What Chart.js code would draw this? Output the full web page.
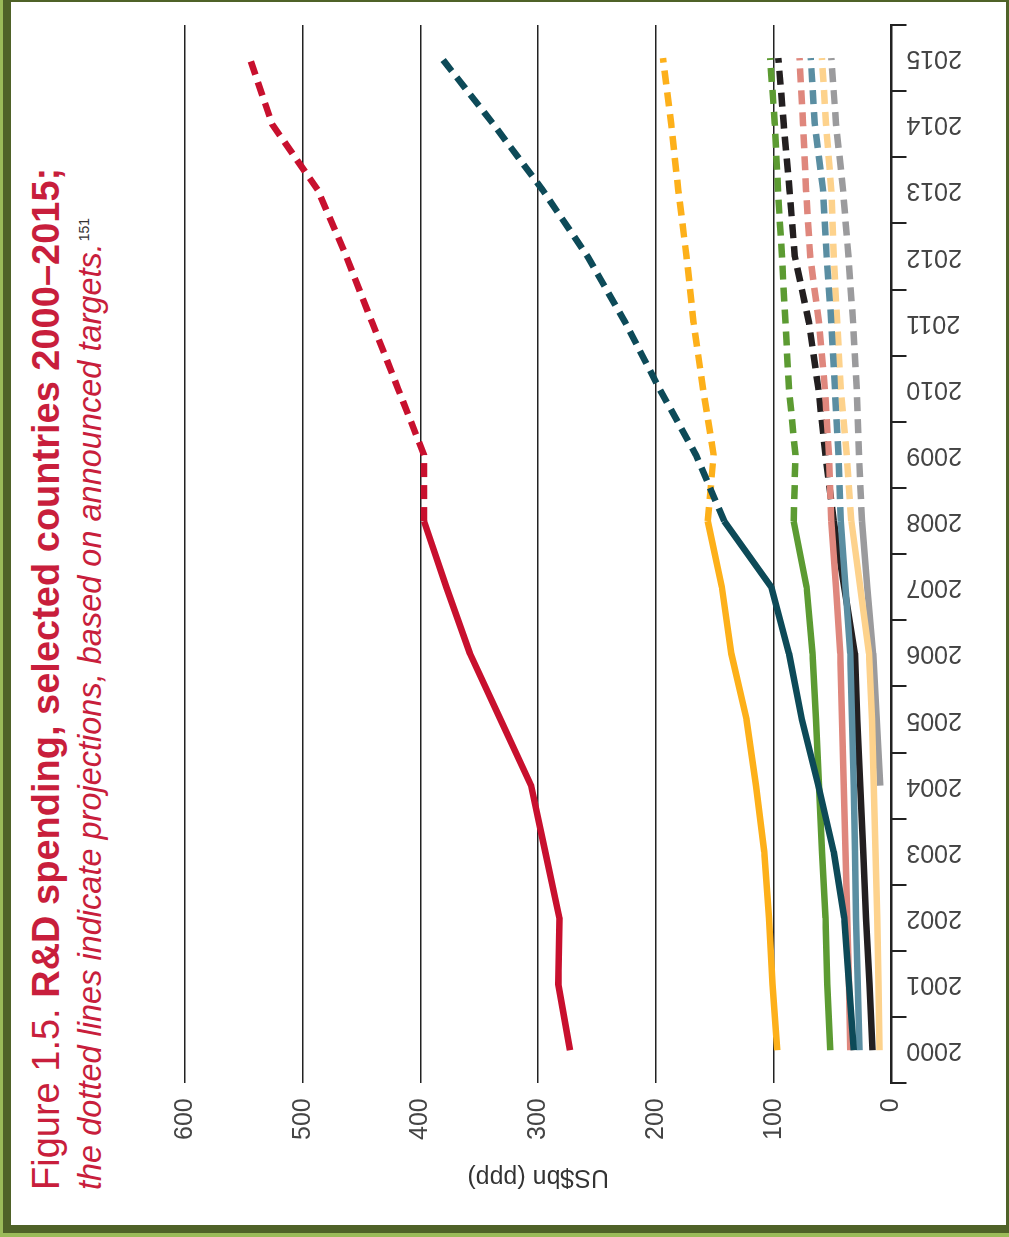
<!DOCTYPE html>
<html>
<head>
<meta charset="utf-8">
<script src="https://cdn.jsdelivr.net/npm/chart.js@4/dist/chart.umd.min.js"></script>
<style>
  html, body { margin: 0; padding: 0; }
  body { width: 1009px; height: 1237px; overflow: hidden; background: #9bbb59; position: relative; font-family: "Liberation Sans", Arial, sans-serif; }
  #frame { position: absolute; left: 3px; top: 0; width: 1006px; height: 1233px; box-sizing: border-box; background: #fff;
           border-style: solid; border-color: #4f6228; border-width: 2px 3px 8px 8px; }
  /* the figure is scanned turned on its side, so the whole chart is turned -90deg */
  #turned { position: absolute; left: 0; top: 0; width: 1237px; height: 1009px; transform-origin: 0 0; transform: translateY(1237px) rotate(-90deg); }
  #title { position: absolute; left: 47px; top: 27px; font-size: 38px; line-height: 1; color: #c81e3c; white-space: nowrap; }
  #title b { font-weight: bold; }
  #subtitle { position: absolute; left: 47px; top: 74px; font-size: 32.5px; line-height: 1; color: #c81e3c; font-style: italic; white-space: nowrap; }
  #subtitle sup { font-style: normal; font-size: 14px; color: #333; vertical-align: 12px; margin-left: 2px; }
  #box { position: absolute; left: 0; top: 110px; }
</style>
</head>
<body>
<div id="frame"></div>
<div id="turned">
  <div id="title">Figure 1.5. <b>R&amp;D spending, selected countries 2000–2015;</b></div>
  <div id="subtitle">the dotted lines indicate projections, based on announced targets.<sup>151</sup></div>
  <div id="box"><canvas id="my-chart" width="1237" height="899"></canvas></div>
</div>
<script>
const years = ['2000', '2001', '2002', '2003', '2004', '2005', '2006', '2007',
               '2008', '2009', '2010', '2011', '2012', '2013', '2014', '2015'];
const valueTicks = [0, 100, 200, 300, 400, 500, 600];
const projectedFrom = 8; // 2008 onwards is dotted

const usa     = [273, 283, 282, 294, 306, 332, 358, 378, 397, 397, 419, 441, 463, 487, 526, 545];
const china   = [32, 36, 40, 49, 62, 76, 87, 102, 142, 166, 197, 226, 258, 296, 338, 382];
const japan   = [97, 101, 104, 108, 115, 123, 136, 144, 156, 151, 160, 168, 174, 181, 187, 194];
const germany = [52, 54.5, 56, 59, 61.5, 64, 67, 72, 83, 81.5, 87, 90, 93, 96.3, 99, 103];
const korea   = [16, 18.5, 21.5, 24, 26.5, 29, 31, 40, 49, 56, 62, 70, 82, 86.5, 91.5, 96];
const france  = [35, 36, 37.5, 39, 40.5, 42, 43.5, 47, 51, 53, 56.5, 61.5, 69, 72.5, 75, 78];
const uk      = [27, 28.5, 30, 31, 32, 33.5, 35, 39, 43, 45, 48, 51, 55, 58, 65, 68.5];
const india   = [10, 11, 12, 13.5, 15, 16.5, 19, 26.5, 34, 38, 43, 46, 49, 51, 55.5, 59];
const russia  = [null, null, null, null, 9.5, 12.5, 15.5, 20.5, 25, 27.5, 29.5, 32.5, 36.5, 41, 47, 51];

const fontFamily = '"Liberation Sans", Arial, sans-serif';

function line(label, data, color, order) {
   return {
      label: label,
      data: data,
      order: order || 0,
      borderColor: color,
      backgroundColor: color,
      borderWidth: 6.5,
      pointRadius: 0,
      tension: 0,
      fill: false,
      borderCapStyle: 'butt',
      borderJoinStyle: 'round',
      segment: {
         borderDash: ctx => ctx.p0DataIndex >= projectedFrom ? [14, 8] : undefined
      }
   };
}

const ctx = document.getElementById('my-chart').getContext('2d');

const chart = new Chart(ctx, {
   type: 'line',
   data: {
      labels: years,
      datasets: [
         line('USA', usa, '#c8102e'),
         line('China', china, '#0d4a58'),
         line('Japan', japan, '#fdb01a'),
         line('Germany', germany, '#5c9b32'),
         line('Korea', korea, '#231f20', 1), // sits under the others
         line('France', france, '#df877d'),
         line('UK', uk, '#5a8ea2'),
         line('India', india, '#fdd28c'),
         line('Russia', russia, '#9b9b9d')
      ]
   },
   options: {
      responsive: false,
      animation: false,
      layout: { padding: { top: 75, left: 45, right: 25, bottom: 47 } },
      plugins: {
         legend: { display: false },
         tooltip: { enabled: false }
      },
      scales: {
         x: {
            type: 'category',
            offset: true,
            border: { display: true, color: '#222', width: 2 },
            grid: { display: true, drawOnChartArea: false, drawTicks: true, tickLength: 15, offset: true, color: '#222', lineWidth: 2 },
            ticks: { minRotation: 90, maxRotation: 90, padding: 0, color: '#444', font: { family: fontFamily, size: 25 } }
         },
         y: {
            min: 0,
            max: 600,
            afterBuildTicks: axis => { axis.ticks = valueTicks.map(v => ({ value: v })); },
            border: { display: false },
            grid: { color: '#222', lineWidth: 1.5, drawTicks: false },
            ticks: { padding: 15, color: '#444', font: { family: fontFamily, size: 25 } },
            title: { display: true, text: 'US$bn (ppp)', color: '#333', padding: { top: 0, bottom: 7 }, font: { family: fontFamily, size: 25 } }
         }
      }
   }
}); // closes chart
</script>
</body>
</html>
